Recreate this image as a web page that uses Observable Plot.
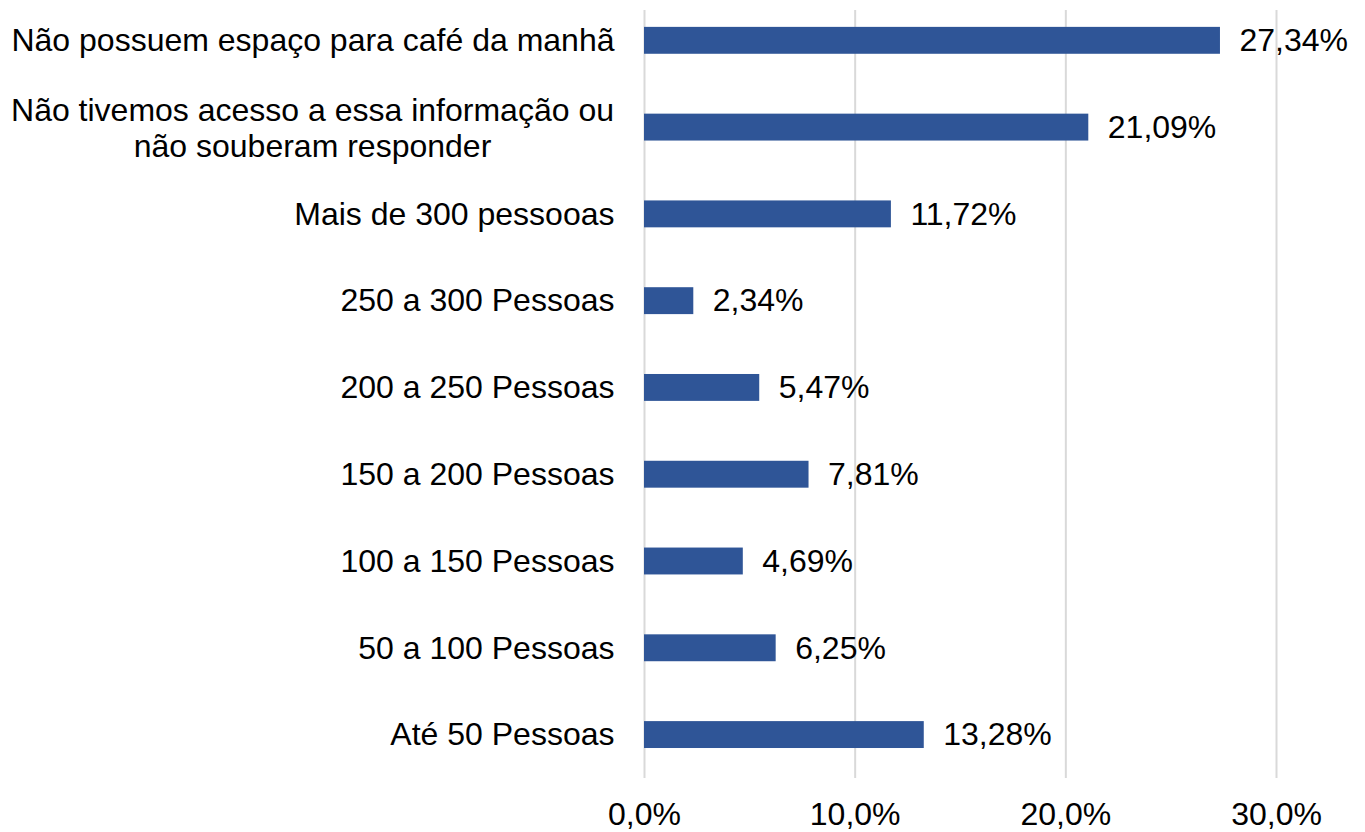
<!DOCTYPE html>
<html>
<head>
<meta charset="utf-8">
<script src="https://cdn.jsdelivr.net/npm/d3@7"></script>
<script src="https://cdn.jsdelivr.net/npm/@observablehq/plot@0.6"></script>
<style>
  html, body { margin: 0; padding: 0; background: #fff; }
  svg { display: block; overflow: visible; }
</style>
</head>
<body>
<div id="chart"></div>
<script>
const categories = [
  "Não possuem espaço para café da manhã",
  "Não tivemos acesso a essa informação ou\nnão souberam responder",
  "Mais de 300 pessooas",
  "250 a 300 Pessoas",
  "200 a 250 Pessoas",
  "150 a 200 Pessoas",
  "100 a 150 Pessoas",
  "50 a 100 Pessoas",
  "Até 50 Pessoas"
];
const values = [27.34, 21.09, 11.72, 2.34, 5.47, 7.81, 4.69, 6.25, 13.28];
const xTicks = [0, 10, 20, 30];

const data = categories.map((c, i) => ({category: c, value: values[i]}));
const singleLine = data.filter(d => !d.category.includes("\n"));
const multiLine = data.filter(d => d.category.includes("\n"));

const fmtValue = v => v.toFixed(2).replace(".", ",") + "%";
const fmtTick = v => v.toFixed(1).replace(".", ",") + "%";

const chart = Plot.plot({
  width: 1365,
  height: 832,
  marginLeft: 644,
  marginRight: 89,
  marginTop: 10,
  marginBottom: 54,
  style: {fontFamily: "'Liberation Sans', Arial, sans-serif", fontSize: "32px", color: "#000", background: "#fff"},
  x: {domain: [0, 30], ticks: xTicks, label: null},
  y: {domain: categories, paddingInner: 0.69, paddingOuter: 0.27, align: 0.36, round: false, label: null},
  marks: [
    Plot.gridX(xTicks, {stroke: "#d9d9d9", strokeOpacity: 1, strokeWidth: 2}),
    Plot.barX(data, {x: "value", y: "category", fill: "#2F5597"}),
    Plot.text(data, {x: "value", y: "category", text: d => fmtValue(d.value), textAnchor: "start", dx: 19, fill: "#000"}),
    Plot.text(singleLine, {x: 0, y: "category", text: "category", textAnchor: "end", dx: -30, fill: "#000"}),
    Plot.text(multiLine, {x: 0, y: "category", text: "category", textAnchor: "middle", dx: -332, lineHeight: 1.13, fill: "#000"}),
    Plot.axisX({ticks: xTicks, tickFormat: fmtTick, tickSize: 0, tickPadding: 24, fontSize: 32, fill: "#000", label: null}),
    Plot.axisY({ticks: [], tickSize: 0, label: null})
  ]
});
document.getElementById("chart").appendChild(chart);
</script>
</body>
</html>
